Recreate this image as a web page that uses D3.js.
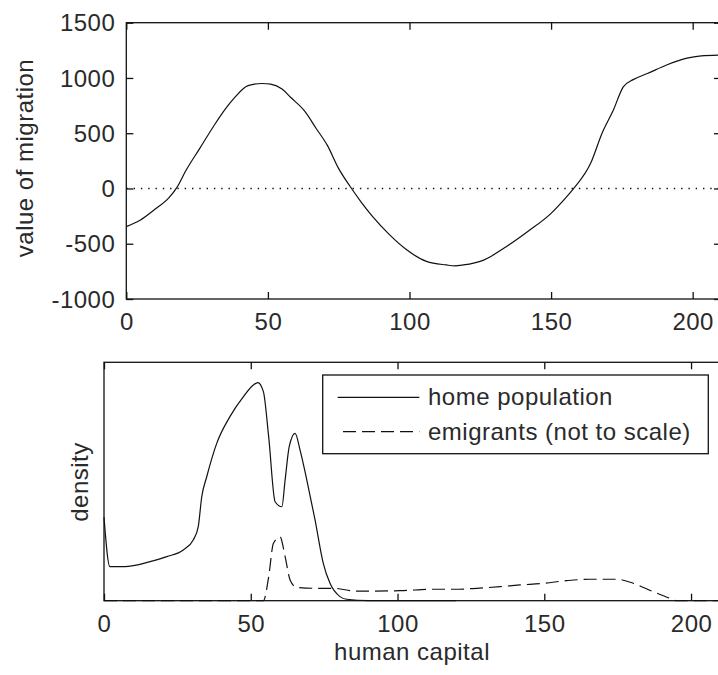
<!DOCTYPE html>
<html>
<head>
<meta charset="utf-8">
<script src="https://cdn.jsdelivr.net/npm/d3@7"></script>
<style>
  body { margin: 0; background: #fff; }
  svg { display: block; }
  text { font-family: "Liberation Sans", Arial, sans-serif; font-size: 24px; fill: #2a2a2a; letter-spacing: 0.5px; }
</style>
</head>
<body>
<svg width="718" height="675"></svg>
<script>
// top panel: value of migration vs human capital
const capTop = [0, 5, 10, 15, 18, 21, 26, 31, 35, 38, 43, 48, 51, 55, 58, 63, 67, 71, 75, 79, 83, 87, 93, 99,
  106, 113, 116, 119, 126, 134, 142, 150, 155, 158, 164, 168, 172, 175.5, 179, 184, 191, 198, 203, 210];
const valueMig = [-345, -285, -190, -85, 15, 160, 365, 570, 720, 815, 930, 950, 944, 900, 825, 700, 545, 390, 180, 20,
  -125, -255, -420, -555, -660, -692, -700, -692, -650, -530, -385, -225, -90, 0, 230, 500, 710, 920, 985, 1040, 1120, 1180, 1200, 1208];
const topYTicks = [-1000, -500, 0, 500, 1000, 1500];
const xTicks = [0, 50, 100, 150, 200];

// bottom panel: densities
const capHome = [0, 2, 7, 15.7, 21.4, 27, 30.4, 32.1, 33.3, 35, 38.4, 42.9, 47.5, 50.9, 52.4, 54.3, 56.1, 58.3, 60.6,
  61.7, 63.1, 65.1, 66.8, 69.1, 71.9, 74.7, 77, 80.4, 82.6, 90, 120];
const homePop = [0.35, 0.143, 0.143, 0.164, 0.185, 0.213, 0.255, 0.31, 0.436, 0.52, 0.66, 0.772, 0.856, 0.905, 0.915,
  0.877, 0.688, 0.415, 0.394, 0.506, 0.646, 0.702, 0.632, 0.506, 0.339, 0.157, 0.073, 0.017, 0.006, 0, 0];
const capEmi = [0, 54.3, 56.1, 57.7, 60, 61.7, 63.4, 65.6, 72.4, 78.1, 86.1, 100.9, 112.2, 119.6, 127, 135, 141.7,
  149.7, 157.6, 165.6, 174.7, 180.3, 187.1, 192.8, 195.1, 210];
const emigrants = [0, 0, 0.1, 0.24, 0.268, 0.185, 0.087, 0.056, 0.052, 0.052, 0.04, 0.042, 0.048, 0.048, 0.052, 0.059,
  0.066, 0.073, 0.084, 0.09, 0.09, 0.073, 0.038, 0.01, 0, 0];
const legendLabels = ['home population', 'emigrants (not to scale)'];

const svg = d3.select('svg');
const tick = 7;

const line = (x, y) => d3.line().curve(d3.curveMonotoneX).x(d => x(d[0])).y(d => y(d[1]));

function frame(g, x, y, yTicks) {
  const [x0, x1] = x.range();
  const [y1, y0] = y.range();
  g.append('rect')
    .attr('x', x0).attr('y', y0)
    .attr('width', x1 - x0).attr('height', y1 - y0)
    .attr('fill', 'none').attr('stroke', '#111').attr('stroke-width', 1.3);

  g.append('g').attr('class', 'xaxis').attr('transform', `translate(0,${y1})`)
    .call(d3.axisBottom(x).tickValues(xTicks).tickSize(-tick).tickPadding(14).tickFormat(d => String(d)));
  g.append('g').attr('transform', `translate(0,${y0})`)
    .call(d3.axisTop(x).tickValues(xTicks).tickSize(-tick).tickFormat(''));
  if (yTicks) {
    g.append('g').attr('class', 'yaxis').attr('transform', `translate(${x0},0)`)
      .call(d3.axisLeft(y).tickValues(yTicks).tickSize(-tick).tickPadding(11).tickFormat(d => String(d)));
    g.append('g').attr('transform', `translate(${x1},0)`)
      .call(d3.axisRight(y).tickValues(yTicks).tickSize(-tick).tickFormat(''));
  }
  g.selectAll('.domain').remove();
  g.selectAll('.tick line').attr('stroke', '#111').attr('stroke-width', 1.3);
  g.selectAll('.tick text').attr('font-size', null).attr('font-family', null).attr('fill', null);
  g.selectAll('.yaxis .tick text').attr('dy', '0.34em');
}

// top panel
const xTop = d3.scaleLinear().domain([0, 210]).range([126.3, 721]);
const yTop = d3.scaleLinear().domain([-1000, 1500]).range([299, 22.7]);
const gTop = svg.append('g');

gTop.append('line')
  .attr('x1', xTop(0)).attr('x2', xTop(210))
  .attr('y1', yTop(0)).attr('y2', yTop(0))
  .attr('stroke', '#111').attr('stroke-width', 1.4)
  .attr('stroke-dasharray', '1.4,5.9');

gTop.append('path')
  .datum(d3.zip(capTop, valueMig))
  .attr('d', line(xTop, yTop))
  .attr('fill', 'none').attr('stroke', '#111').attr('stroke-width', 1.2);

frame(gTop, xTop, yTop, topYTicks);

gTop.append('text')
  .attr('transform', 'translate(33,158) rotate(-90)')
  .attr('text-anchor', 'middle')
  .text('value of migration');

// bottom panel
const xBot = d3.scaleLinear().domain([0, 210]).range([104, 720.4]);
const yBot = d3.scaleLinear().domain([0, 1]).range([600.7, 362.3]);
const gBot = svg.append('g');

gBot.append('path')
  .datum(d3.zip(capHome, homePop))
  .attr('d', line(xBot, yBot))
  .attr('fill', 'none').attr('stroke', '#111').attr('stroke-width', 1.2);

gBot.append('path')
  .datum(d3.zip(capEmi, emigrants))
  .attr('d', line(xBot, yBot))
  .attr('fill', 'none').attr('stroke', '#111').attr('stroke-width', 1.2)
  .attr('stroke-dasharray', '13,6');

frame(gBot, xBot, yBot, null);

gBot.append('text')
  .attr('transform', 'translate(88,482) rotate(-90)')
  .attr('text-anchor', 'middle')
  .text('density');

gBot.append('text')
  .attr('x', 412).attr('y', 660)
  .attr('text-anchor', 'middle')
  .text('human capital');

// legend
const legend = gBot.append('g');
legend.append('rect')
  .attr('x', 322.7).attr('y', 375)
  .attr('width', 385.6).attr('height', 78.7)
  .attr('fill', '#fff').attr('stroke', '#111').attr('stroke-width', 1.3);

const rows = legend.selectAll('g.row')
  .data(legendLabels)
  .enter().append('g')
  .attr('class', 'row')
  .attr('transform', (d, i) => `translate(0,${397.3 + i * 34.4})`);

rows.append('line')
  .attr('x1', (d, i) => i === 0 ? 337.7 : 343).attr('x2', 419.3)
  .attr('stroke', '#111').attr('stroke-width', 1.2)
  .attr('stroke-dasharray', (d, i) => i === 0 ? null : '13,6');

rows.append('text')
  .attr('x', 428).attr('dy', '0.34em')
  .text(d => d);
</script>
</body>
</html>
